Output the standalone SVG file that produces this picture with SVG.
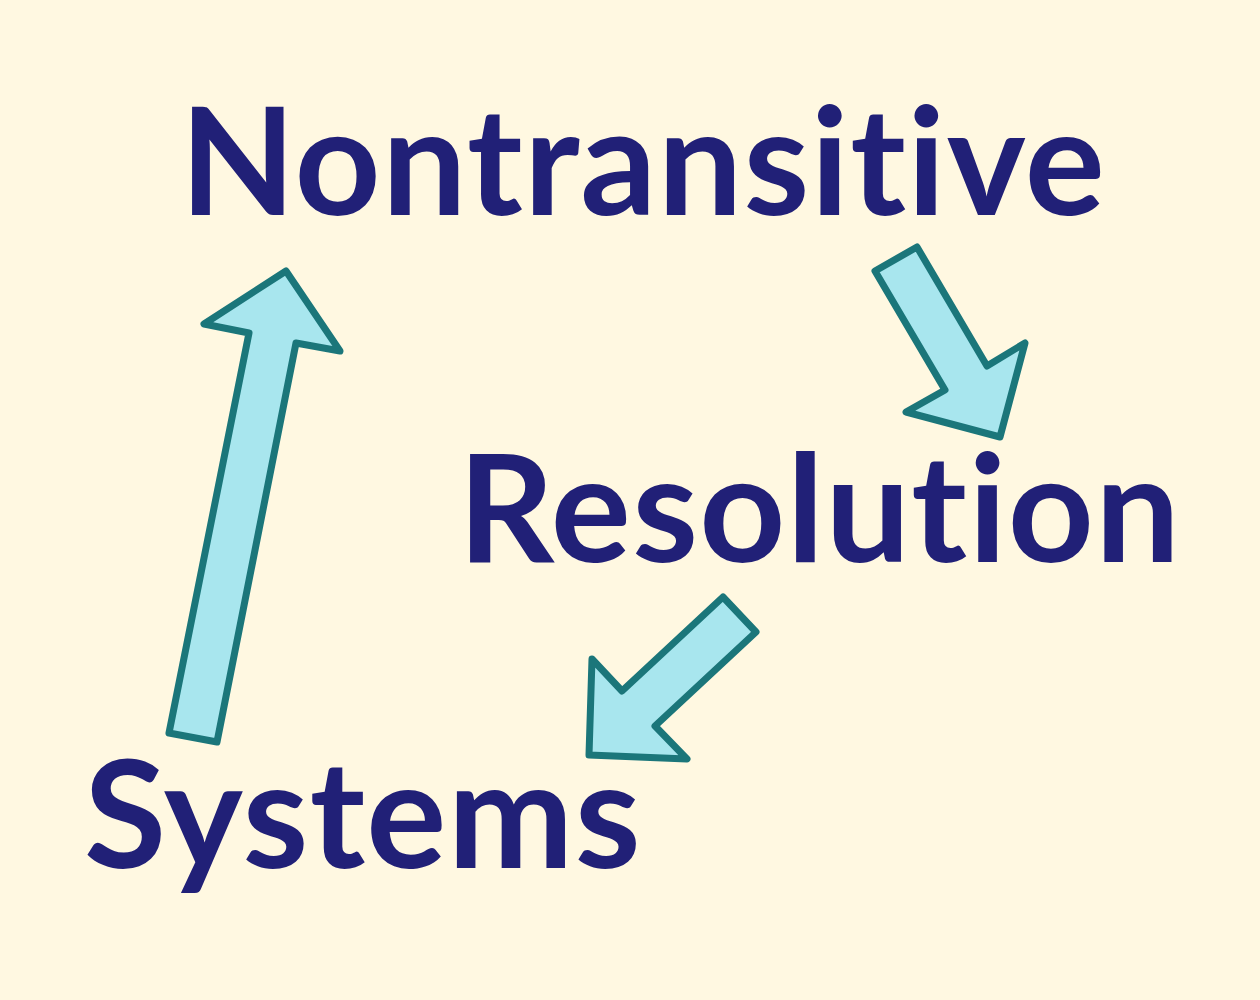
<svg xmlns="http://www.w3.org/2000/svg" width="1260" height="1000" viewBox="0 0 1260 1000">
<style>
.word{font-family:Lato,"Liberation Sans",sans-serif;font-weight:700;font-size:150px;fill:#212077;letter-spacing:1.3px;font-variant-ligatures:none;font-feature-settings:"liga" 0}
.arrow{fill:#a8e6ee;stroke:#1b767a;stroke-width:7;stroke-linejoin:round}
</style>
<rect width="1260" height="1000" fill="#fff8e1"/>
<g id="nontransitive"><text class="word" x="180" y="215">Nontransitive</text></g>
<g id="resolution"><text class="word" x="458" y="562">Resolution</text></g>
<g id="systems"><text class="word" x="84" y="868">Systems</text></g>
<g id="connectors">
<polygon class="arrow" points="875,271 917,247 987,366 1025,343 1000,437 906,412 945,390"/>
<polygon class="arrow" points="169,733 217,742 296,343 340,351 286,271 204,324 249,333"/>
<polygon class="arrow" points="723,597 756,632 655,726 687,759 589,755 592,659 622,691"/>
</g>
</svg>
